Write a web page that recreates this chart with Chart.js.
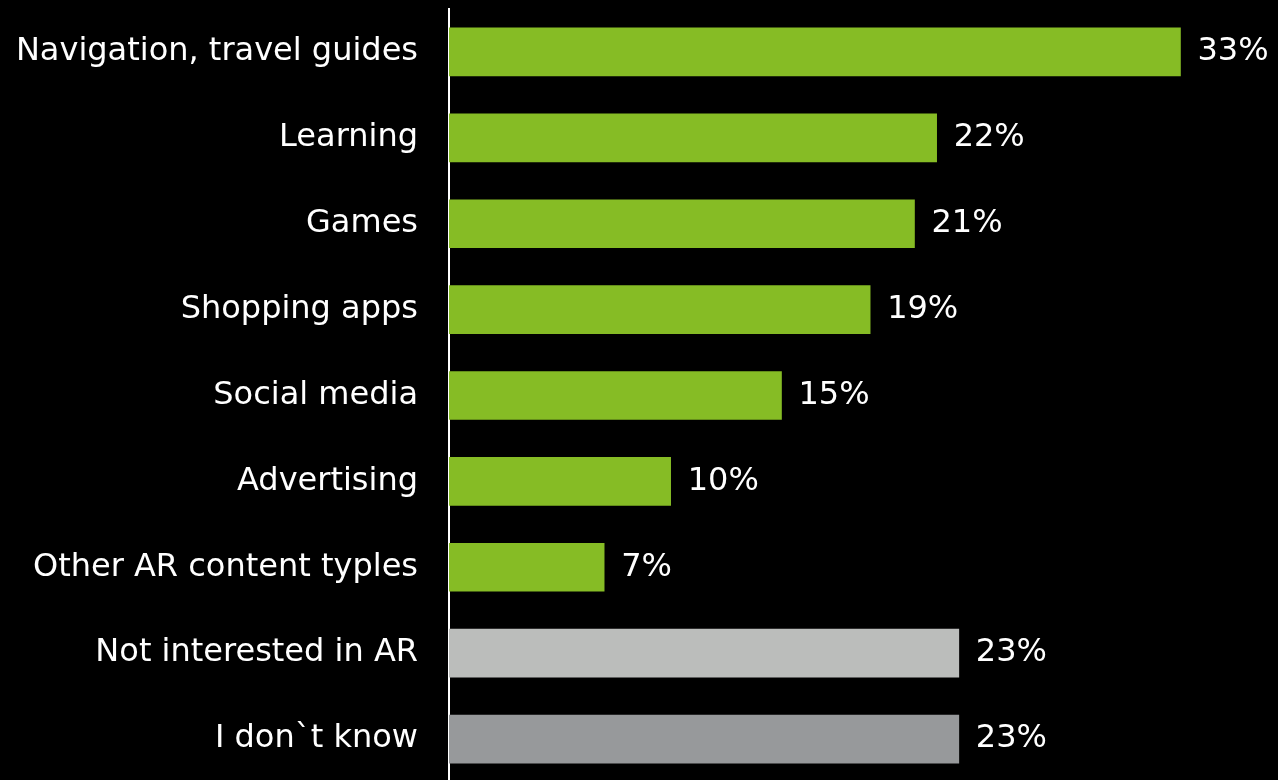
<!DOCTYPE html>
<html>
<head>
<meta charset="utf-8">
<script src="https://cdn.jsdelivr.net/npm/chart.js@4"></script>
<style>
  html, body { margin: 0; padding: 0; background: #000; overflow: hidden; }
  #wrap { position: relative; width: 1278px; height: 782px; }
</style>
</head>
<body>
<div id="wrap"><canvas id="arChart"></canvas></div>
<script>
// AR content interest, share of respondents
const categories = [
  'Navigation, travel guides',
  'Learning',
  'Games',
  'Shopping apps',
  'Social media',
  'Advertising',
  'Other AR content typles',
  'Not interested in AR',
  'I don`t know',
];
const shares = [33, 22, 21, 19, 15, 10, 7, 23, 23];

const GREEN = '#86bc25';
const LIGHT_GREY = '#bbbdbb';
const DARK_GREY = '#97999b';
const barColors = categories.map((c, i) => (i === 7 ? LIGHT_GREY : i === 8 ? DARK_GREY : GREEN));

const FONT = { family: '"DejaVu Sans", Verdana, sans-serif', size: 32 };

// writes "NN%" just past the end of each bar
const valueLabels = {
  id: 'valueLabels',
  afterDatasetsDraw(chart) {
    const ctx = chart.ctx;
    const meta = chart.getDatasetMeta(0);
    ctx.save();
    ctx.fillStyle = '#ffffff';
    ctx.font = `${FONT.size}px ${FONT.family}`;
    ctx.textAlign = 'left';
    ctx.textBaseline = 'middle';
    meta.data.forEach((bar, i) => {
      ctx.fillText(shares[i] + '%', bar.x + 17, bar.y);
    });
    ctx.restore();
  },
};

const ctx = document.getElementById('arChart').getContext('2d');
new Chart(ctx, {
  type: 'bar',
  data: {
    labels: categories,
    datasets: [{
      data: shares,
      backgroundColor: barColors,
      borderWidth: 0,
      barThickness: 48,
    }],
  },
  options: {
    indexAxis: 'y',
    responsive: true,
    maintainAspectRatio: false,
    animation: false,
    layout: { padding: { top: 9, right: 0, bottom: 0, left: 0 } },
    plugins: { legend: { display: false }, tooltip: { enabled: false } },
    scales: {
      x: { display: false, min: 0, max: 37.4 },
      y: {
        // fixed axis width, and no extra room reserved for the end labels
        afterFit(scale) {
          scale.width = 449;
          scale.paddingTop = 0;
          scale.paddingBottom = 0;
        },
        grid: { display: false, drawTicks: false },
        border: { display: true, color: '#ffffff', width: 2 },
        ticks: { color: '#ffffff', font: FONT, padding: 31 },
      },
    },
  },
  plugins: [valueLabels],
});
</script>
</body>
</html>
